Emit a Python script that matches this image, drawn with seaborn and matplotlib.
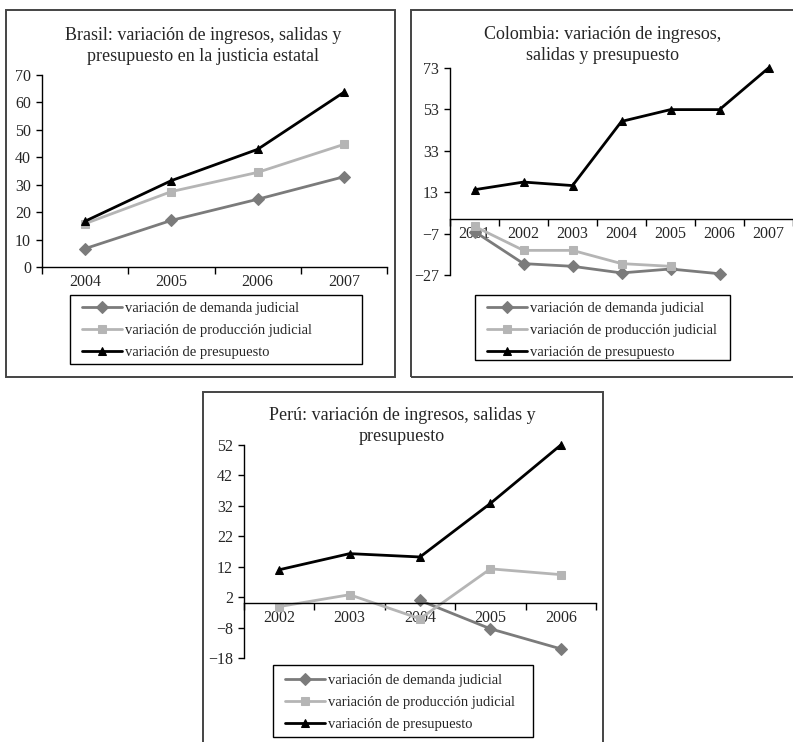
import matplotlib
matplotlib.use("Agg")
import matplotlib.pyplot as plt
from matplotlib.patches import Rectangle
import seaborn as sns
import numpy as np
import pandas as pd

# --- data ---
series_names = ["variación de demanda judicial",
                "variación de producción judicial",
                "variación de presupuesto"]

brasil_years = ["2004", "2005", "2006", "2007"]
brasil_demanda = [6.7, 17.0, 24.7, 32.9]
brasil_produccion = [15.8, 27.5, 34.5, 44.7]
brasil_presupuesto = [16.7, 31.5, 42.9, 63.7]
brasil_yticks = [0, 10, 20, 30, 40, 50, 60, 70]

colombia_years = ["2001", "2002", "2003", "2004", "2005", "2006", "2007"]
colombia_demanda = [-6.0, -21.5, -22.8, -26.0, -24.1, -26.4, np.nan]
colombia_produccion = [-3.5, -15.1, -15.1, -21.5, -22.8, np.nan, np.nan]
colombia_presupuesto = [14.2, 17.9, 16.2, 47.2, 52.9, 52.9, 73.0]
colombia_yticks = [-27, -7, 13, 33, 53, 73]

peru_years = ["2002", "2003", "2004", "2005", "2006"]
peru_demanda = [np.nan, np.nan, 0.9, -8.4, -15.0]
peru_produccion = [-1.1, 2.8, -5.1, 11.3, 9.4]
peru_presupuesto = [11.0, 16.3, 15.2, 32.8, 52.0]
peru_yticks = [-18, -8, 2, 12, 22, 32, 42, 52]

colors = {series_names[0]: "#7b7b7b", series_names[1]: "#b5b5b5", series_names[2]: "#000000"}
markers = {series_names[0]: "D", series_names[1]: "s", series_names[2]: "^"}

sns.set_style("ticks")
plt.rcParams["font.family"] = ["Liberation Serif", "DejaVu Serif"]

W, H = 793, 742
fig = plt.figure(figsize=(W / 100, H / 100), dpi=100)


def px_axes(left, top, right, bottom):
    return fig.add_axes([left / W, 1 - bottom / H, (right - left) / W, (bottom - top) / H])


def px_rect(x0, y0, x1, y1, color, lw):
    fig.patches.append(Rectangle((x0 / W, 1 - y1 / H), (x1 - x0) / W, (y1 - y0) / H,
                                 transform=fig.transFigure, fill=False,
                                 edgecolor=color, lw=lw, zorder=0))


def long_frame(years, dem, prod, pres):
    rows = []
    for name, vals in zip(series_names, [dem, prod, pres]):
        for i, (yr, v) in enumerate(zip(years, vals)):
            if not np.isnan(v):
                rows.append({"pos": i, "year": yr, "serie": name, "valor": v})
    return pd.DataFrame(rows)


def panel(box, ax_box, title, title_xy, years, dem, prod, pres, yticks, leg_box, leg_xy):
    px_rect(*box, "#444444", 1.4)
    ax = px_axes(*ax_box)
    df = long_frame(years, dem, prod, pres)
    sns.lineplot(data=df, x="pos", y="valor", hue="serie", style="serie",
                 hue_order=series_names, style_order=series_names,
                 palette=colors, markers=markers, dashes=False,
                 linewidth=2.0, markersize=6, legend=False, ax=ax)
    for ln in ax.get_lines():
        ln.set_markeredgecolor(ln.get_color())
        ln.set_clip_on(False)

    n = len(years)
    ax.set_xlim(-0.5, n - 0.5)
    ax.set_ylim(yticks[0], yticks[-1])
    ax.set_yticks(yticks)
    ax.set_xticks(range(n))
    ax.set_xticklabels(years)
    ax.set_xticks(np.arange(-0.5, n, 1.0), minor=True)
    ax.tick_params(axis="x", which="major", length=0, pad=5, labelsize=11.5)
    ax.tick_params(axis="x", which="minor", length=5, width=1, direction="out", color="black")
    ax.tick_params(axis="y", length=4, width=1, pad=4, labelsize=11.5, color="black")
    ax.set_xlabel("")
    ax.set_ylabel("")
    sns.despine(ax=ax)
    ax.spines["bottom"].set_position(("data", 0))
    for s in ["left", "bottom"]:
        ax.spines[s].set_color("black")
        ax.spines[s].set_linewidth(1.0)
    ax.patch.set_alpha(0)

    fig.text(title_xy[0] / W, 1 - title_xy[1] / H, title, ha="center", va="center",
             fontsize=13, linespacing=1.3)

    # legend frame drawn separately so its size matches the original
    px_rect(*leg_box, "black", 1.0)
    handles = ax.get_lines()[:3]
    fig.legend(handles, series_names, loc="upper left",
               bbox_to_anchor=(leg_xy[0] / W, 1 - leg_xy[1] / H),
               bbox_transform=fig.transFigure, borderaxespad=0, borderpad=0,
               frameon=False, fontsize=10.5, handlelength=2.75,
               handletextpad=0.2, labelspacing=0.6)
    return ax


panel((6, 10, 395, 377), (42, 75, 387, 267),
      "Brasil: variación de ingresos, salidas y\npresupuesto en la justicia estatal", (203, 46),
      brasil_years, brasil_demanda, brasil_produccion, brasil_presupuesto,
      brasil_yticks, (70, 295, 362, 364), (82, 302))

panel((411, 10, 800, 377), (450, 68, 793, 275),
      "Colombia: variación de ingresos,\nsalidas y presupuesto", (603, 45),
      colombia_years, colombia_demanda, colombia_produccion, colombia_presupuesto,
      colombia_yticks, (475, 295, 730, 360), (487, 302))

panel((203, 392, 603, 760), (244, 445, 596, 658),
      "Perú: variación de ingresos, salidas y\npresupuesto", (402, 426),
      peru_years, peru_demanda, peru_produccion, peru_presupuesto,
      peru_yticks, (273, 665, 533, 737), (285, 674))

fig.savefig("out.png", dpi=100)
